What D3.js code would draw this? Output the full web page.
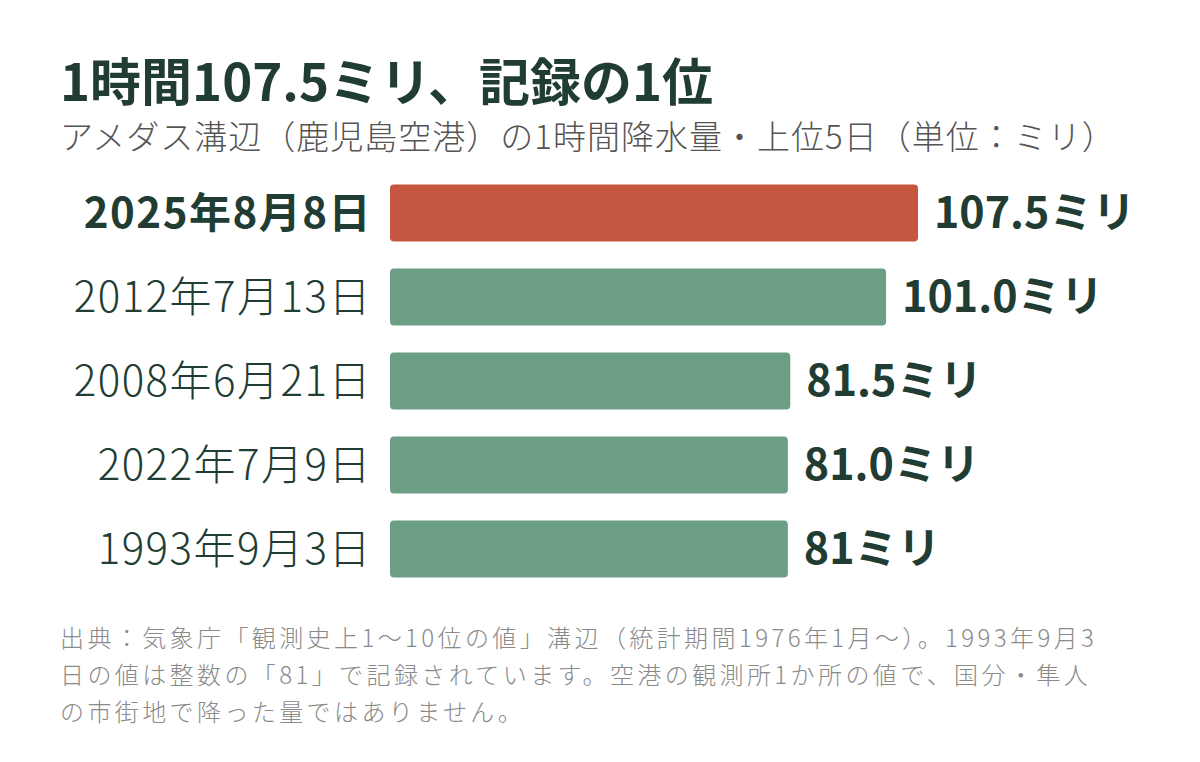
<!DOCTYPE html>
<html>
<head>
<meta charset="utf-8">
<script src="https://cdn.jsdelivr.net/npm/d3@7"></script>
<style>
  body { margin: 0; background: #fff; }
  text { font-family: "Noto Sans CJK JP", "Noto Sans", sans-serif; }
</style>
</head>
<body>
<script>
// data
var dates = ["2025年8月8日", "2012年7月13日", "2008年6月21日", "2022年7月9日", "1993年9月3日"];
var values = [107.5, 101.0, 81.5, 81.0, 81];
var valueLabels = ["107.5ミリ", "101.0ミリ", "81.5ミリ", "81.0ミリ", "81ミリ"];

var title = "1時間107.5ミリ、記録の1位";
var subtitle = "アメダス溝辺（鹿児島空港）の1時間降水量・上位5日（単位：ミリ）";
var noteLines = [
  "出典：気象庁「観測史上1〜10位の値」溝辺（統計期間1976年1月〜）。1993年9月3",
  "日の値は整数の「81」で記録されています。空港の観測所1か所の値で、国分・隼人",
  "の市街地で降った量ではありません。"
];

var width = 1200;
var height = 762;
var dark = "#213d33";

var svg = d3.select("body")
            .append("svg")
            .attr("width", width)
            .attr("height", height);

svg.append("text")
   .attr("x", 60)
   .attr("y", 101)
   .style("font-size", "51px")
   .style("font-weight", "bold")
   .style("fill", dark)
   .text(title);

svg.append("text")
   .attr("x", 60)
   .attr("y", 149)
   .style("font-size", "33px")
   .style("font-weight", 300)
   .style("letter-spacing", "1px")
   .style("fill", "#555")
   .text(subtitle);

var x = d3.scaleLinear()
          .domain([0, 107.5])
          .range([390, 918]);

var y = d3.scaleBand()
          .domain(dates)
          .range([171, 591])
          .paddingInner(0.32)
          .paddingOuter(0.16);

svg.selectAll(".bar")
   .data(values)
   .enter().append("rect")
   .attr("class", "bar")
   .attr("x", x(0))
   .attr("y", function(d, i) { return y(dates[i]); })
   .attr("width", function(d) { return x(d) - x(0); })
   .attr("height", y.bandwidth())
   .attr("rx", 4)
   .attr("fill", function(d, i) { return i == 0 ? "#c5563f" : "#6c9e86"; });

svg.selectAll(".dateLabel")
   .data(dates)
   .enter().append("text")
   .attr("class", "dateLabel")
   .attr("x", 372)
   .attr("y", function(d) { return y(d) + y.bandwidth() / 2; })
   .attr("dy", "0.36em")
   .attr("text-anchor", "end")
   .style("font-size", "42px")
   .style("letter-spacing", "1.5px")
   .style("font-weight", function(d, i) { return i == 0 ? "bold" : 300; })
   .style("fill", dark)
   .text(function(d) { return d; });

svg.selectAll(".valueLabel")
   .data(values)
   .enter().append("text")
   .attr("class", "valueLabel")
   .attr("x", function(d) { return x(d) + 16; })
   .attr("y", function(d, i) { return y(dates[i]) + y.bandwidth() / 2; })
   .attr("dy", "0.36em")
   .style("font-size", "43px")
   .style("font-weight", "bold")
   .style("fill", dark)
   .text(function(d, i) { return valueLabels[i]; });

svg.selectAll(".note")
   .data(noteLines)
   .enter().append("text")
   .attr("class", "note")
   .attr("x", 60)
   .attr("y", function(d, i) { return 647 + i * 37; })
   .style("font-size", "24px")
   .style("font-weight", 300)
   .style("letter-spacing", "3.4px")
   .style("fill", "#8a8a8a")
   .text(function(d) { return d; });
</script>
</body>
</html>
